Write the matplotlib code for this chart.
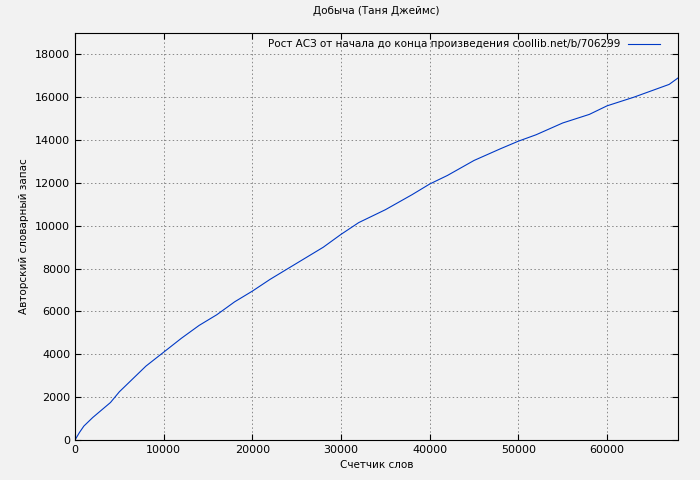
import matplotlib.pyplot as plt

# word counter vs. author vocabulary
words = [0, 500, 1000, 2000, 3000, 4000, 5000, 6000, 7000, 8000, 10000, 12000,
         14000, 16000, 18000, 20000, 22000, 25000, 28000, 30000, 32000, 35000,
         38000, 40000, 42000, 45000, 48000, 50000, 52000, 55000, 58000, 60000,
         63000, 65000, 67000, 68000]
vocab = [0, 350, 650, 1050, 1400, 1750, 2250, 2650, 3050, 3450, 4100, 4750,
         5350, 5850, 6450, 6950, 7500, 8250, 9000, 9600, 10150, 10750,
         11450, 11950, 12350, 13050, 13600, 13950, 14250, 14800, 15200, 15600,
         16000, 16300, 16600, 16900]

bg = "#f2f2f2"
fig = plt.figure(figsize=(7, 4.8), dpi=100, facecolor=bg)
ax = fig.add_axes([75 / 700, 40 / 480, 603 / 700, 407 / 480], facecolor=bg)

ax.plot(words, vocab, color="#0039c6", linewidth=0.8,
        label="Рост АСЗ от начала до конца произведения coollib.net/b/706299")

ax.set_xlim(0, 68000)
ax.set_ylim(0, 19000)
ax.set_xticks(range(0, 68000, 10000))
ax.set_yticks(range(0, 19000, 2000))
ax.tick_params(labelsize=8, direction="in", length=4, top=True, right=True)
ax.grid(True, linestyle=(0, (1.5, 2.5)), color="#888888", linewidth=0.7)

ax.set_title("Добыча (Таня Джеймс)", fontsize=7.5, pad=14)
ax.set_xlabel("Счетчик слов", fontsize=7.5)
ax.set_ylabel("Авторский словарный запас", fontsize=7.5)

leg = ax.legend(loc="upper right", fontsize=7.5, frameon=False,
                markerfirst=False, handlelength=3, borderaxespad=0.2,
                bbox_to_anchor=(0.98, 1.0))

plt.savefig("out.png", dpi=100, facecolor=bg)
